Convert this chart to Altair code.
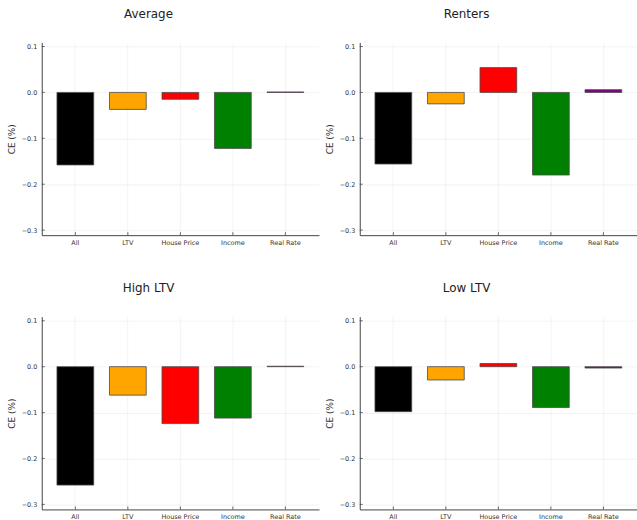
import altair as alt
import pandas as pd

categories = ["All", "LTV", "House Price", "Income", "Real Rate"]
colors = ["#000000", "#FFA500", "#FF0000", "#008000", "#800080"]
panel_titles = ["Average", "Renters", "High LTV", "Low LTV"]
average = [-0.158, -0.037, -0.015, -0.122, 0.001]
renters = [-0.156, -0.025, 0.054, -0.180, 0.006]
high_ltv = [-0.258, -0.062, -0.124, -0.112, 0.001]
low_ltv = [-0.098, -0.029, 0.007, -0.089, -0.003]
y_ticks = [-0.3, -0.2, -0.1, 0.0, 0.1]
y_domain = [-0.311, 0.109]

W, H = 279, 194
FONT = "DejaVu Sans"


def panel(title, values):
    df = pd.DataFrame({"cat": categories, "ce": values, "zero": [0.0] * len(values)})
    xs = alt.Scale(domain=categories, paddingInner=0.3, paddingOuter=0.29)
    ys = alt.Scale(domain=y_domain, nice=False, zero=False)
    x = alt.X("cat:N", scale=xs, sort=categories,
              axis=alt.Axis(title=None, grid=True, labelAngle=0, ticks=False,
                            labelPadding=4))
    y = alt.Y("ce:Q", scale=ys,
              axis=alt.Axis(values=y_ticks, format=".1f", title="CE (%)", ticks=False,
                            grid=True, labelPadding=5, titlePadding=5))
    bars = alt.Chart(df).mark_bar(stroke="#4a4a4a", strokeWidth=0.8).encode(
        x=x, y=y, y2="zero:Q",
        color=alt.Color("cat:N", scale=alt.Scale(domain=categories, range=colors), legend=None),
    )
    yt = alt.Chart(pd.DataFrame({"t": y_ticks})).mark_rule(color="#444", strokeWidth=0.8).encode(
        y=alt.Y("t:Q", scale=ys), x=alt.value(0), x2=alt.value(3)
    )
    xt = alt.Chart(pd.DataFrame({"cat": categories})).mark_rule(color="#444", strokeWidth=0.8).encode(
        x=alt.X("cat:N", scale=xs, sort=categories), y=alt.value(H), y2=alt.value(H - 3)
    )
    return alt.layer(bars, yt, xt).properties(
        width=W, height=H,
        title=alt.TitleParams(title, fontSize=12, font=FONT, fontWeight="normal",
                              color="#222", dx=-32, offset=22),
    )


top = alt.hconcat(panel(panel_titles[0], average), panel(panel_titles[1], renters), spacing=6)
bottom = alt.hconcat(panel(panel_titles[2], high_ltv), panel(panel_titles[3], low_ltv), spacing=6)
chart = alt.vconcat(top, bottom, spacing=36).properties(
    padding={"left": 7, "top": 6, "right": 0, "bottom": 0}
).configure_view(stroke=None).configure_axis(
    labelFont=FONT, labelFontSize=6.5, labelColor="#333",
    titleFont=FONT, titleFontSize=9, titleFontWeight="normal", titleColor="#333",
    domainColor="#444", domainWidth=1,
    gridColor="#ebebeb", gridWidth=0.6,
)

chart.save("out.html", embed_options={"renderer": "svg", "actions": False})
